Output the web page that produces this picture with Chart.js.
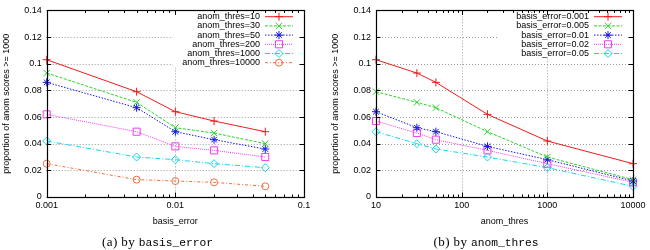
<!DOCTYPE html>
<html>
<head>
<meta charset="utf-8">
<script src="https://cdn.jsdelivr.net/npm/chart.js@4.4.0/dist/chart.umd.min.js"></script>
<style>
  body { margin: 0; background: #fff; width: 650px; height: 250px; position: relative; overflow: hidden; }
  canvas { position: absolute; top: 0; }
  .cap { position: absolute; top: 233px; white-space: nowrap; transform: translateX(-50%); line-height: 15px; color: #000; }
  .cap .s { font-family: 'Liberation Serif', serif; font-size: 13px; letter-spacing: 0.4px; }
  .cap .m { font-family: 'Liberation Mono', monospace; font-size: 11.25px; }
</style>
</head>
<body>
<canvas id="left" width="325" height="250" style="left:0"></canvas>
<canvas id="right" width="325" height="250" style="left:325px"></canvas>
<div class="cap" style="left:157.5px"><span class="s">(a) by </span><span class="m">basis_error</span></div>
<div class="cap" style="left:486px"><span class="s">(b) by </span><span class="m">anom_thres</span></div>
<script>
  const basisErrors = [0.001, 0.005, 0.01, 0.02, 0.05];
  const anomThres = [10, 30, 50, 200, 1000, 10000];

  // proportion of anom scores >= 1000, one array per anom_thres, over basisErrors
  const thres10 = [0.103, 0.079, 0.064, 0.057, 0.049];
  const thres30 = [0.093, 0.071, 0.052, 0.048, 0.040];
  const thres50 = [0.086, 0.067, 0.049, 0.043, 0.036];
  const thres200 = [0.062, 0.049, 0.038, 0.035, 0.030];
  const thres1000 = [0.042, 0.030, 0.028, 0.025, 0.022];
  const thres10000 = [0.025, 0.013, 0.012, 0.011, 0.008];
  const byThres = [thres10, thres30, thres50, thres200, thres1000, thres10000];

  const yTicks = [0, 0.02, 0.04, 0.06, 0.08, 0.1, 0.12, 0.14];
  const yTickLabels = ['0', '0.02', '0.04', '0.06', '0.08', '0.1', '0.12', '0.14'];
  const basisTicks = [0.001, 0.01, 0.1];
  const basisTickLabels = ['0.001', '0.01', '0.1'];
  const thresTicks = [10, 100, 1000, 10000];
  const thresTickLabels = ['10', '100', '1000', '10000'];

  // gnuplot-ish line types
  const looks = [
    { color: '#ee1c1c', dash: [], point: 'cross', r: 4 },
    { color: '#2ad42a', dash: [3, 1.5], point: 'crossRot', r: 4.5 },
    { color: '#1414ee', dash: [1.5, 1.5], point: 'star', r: 4 },
    { color: '#f03cf0', dash: [1, 1], point: 'rect', r: 5 },
    { color: '#10d8e8', dash: [5, 2, 1, 2], point: 'rectRot', r: 4 },
    { color: '#e8703c', dash: [3, 2, 1, 2], point: 'circle', r: 3.5 }
  ];

  const FONT = { family: "'Liberation Sans', Arial, sans-serif", size: 9 };

  const frame = {
    id: 'frame',
    beforeDatasetsDraw(chart) {
      const { ctx, chartArea: a, scales: { x, y } } = chart;
      ctx.save();
      ctx.strokeStyle = '#9c9c9c';
      ctx.lineWidth = 1;
      ctx.setLineDash([1, 2]);
      ctx.beginPath();
      x.ticks.forEach(t => {
        if (t.value > x.min && t.value < x.max) {
          const px = Math.round(x.getPixelForValue(t.value)) + 0.5;
          ctx.moveTo(px, a.top); ctx.lineTo(px, a.bottom);
        }
      });
      y.ticks.forEach(t => {
        if (t.value > y.min && t.value < y.max) {
          const py = Math.round(y.getPixelForValue(t.value)) + 0.5;
          ctx.moveTo(a.left, py); ctx.lineTo(a.right, py);
        }
      });
      ctx.stroke();
      // legend box hides the grid
      const ds = chart.data.datasets;
      const maxLen = Math.max(...ds.map(d => d.label.length));
      const bx = a.right - (maxLen * 4 + 67);
      ctx.fillStyle = '#fff';
      ctx.fillRect(bx, a.top + 1, a.right - 1 - bx, ds.length * 9.2 + 1);
      ctx.restore();
    },
    afterDatasetsDraw(chart) {
      const { ctx, chartArea: a, scales: { x, y } } = chart;
      ctx.save();
      ctx.strokeStyle = '#000';
      ctx.lineWidth = 1;
      ctx.beginPath();
      const tick = (px, len) => {
        ctx.moveTo(px, a.bottom); ctx.lineTo(px, a.bottom - len);
        ctx.moveTo(px, a.top); ctx.lineTo(px, a.top + len);
      };
      x.ticks.forEach(t => tick(Math.round(x.getPixelForValue(t.value)) + 0.5, 4.5));
      for (let d = Math.pow(10, Math.floor(Math.log10(x.min))); d < x.max; d *= 10) {
        for (let k = 2; k < 10; k++) {
          const v = d * k;
          if (v > x.min && v < x.max) tick(Math.round(x.getPixelForValue(v)) + 0.5, 2.5);
        }
      }
      y.ticks.forEach(t => {
        const py = Math.round(y.getPixelForValue(t.value)) + 0.5;
        ctx.moveTo(a.left, py); ctx.lineTo(a.left + 4.5, py);
        ctx.moveTo(a.right, py); ctx.lineTo(a.right - 4.5, py);
      });
      ctx.stroke();
      ctx.lineWidth = 1.2;
      ctx.strokeRect(Math.round(a.left) + 0.5, Math.round(a.top) + 0.5,
        Math.round(a.right) - Math.round(a.left), Math.round(a.bottom) - Math.round(a.top));

      // legend entries
      ctx.font = `${FONT.size}px ${FONT.family}`;
      ctx.textAlign = 'right';
      ctx.textBaseline = 'middle';
      chart.data.datasets.forEach((d, i) => {
        const yy = a.top + 6.3 + i * 9.2;
        ctx.fillStyle = '#000';
        ctx.fillText(d.label, a.right - 44, yy);
        ctx.strokeStyle = d.borderColor;
        ctx.lineWidth = 1;
        ctx.setLineDash(d.borderDash);
        ctx.beginPath();
        ctx.moveTo(a.right - 39, yy); ctx.lineTo(a.right - 11, yy);
        ctx.stroke();
        ctx.setLineDash([]);
        ctx.fillStyle = 'rgba(0,0,0,0)';
        Chart.helpers.drawPoint(ctx, { pointStyle: d.pointStyle, radius: d.pointRadius, rotation: 0, borderWidth: 1 }, a.right - 25, yy);
      });
      ctx.restore();
    }
  };

  function makeChart(id, xTitle, xTicks, xLabels, series, padLeft, padRight) {
    return new Chart(document.getElementById(id), {
      type: 'line',
      data: {
        datasets: series.map((s, i) => ({
          label: s.label,
          data: s.data,
          borderColor: looks[i].color,
          borderWidth: 1,
          borderDash: looks[i].dash,
          pointStyle: looks[i].point,
          pointRadius: looks[i].r,
          pointBorderColor: looks[i].color,
          pointBackgroundColor: 'rgba(0,0,0,0)',
          pointBorderWidth: 1,
          tension: 0,
          clip: false
        }))
      },
      options: {
        responsive: false,
        animation: false,
        devicePixelRatio: 1,
        layout: { padding: { left: padLeft, right: padRight, top: 9, bottom: 23 } },
        plugins: { legend: { display: false }, tooltip: { enabled: false } },
        scales: {
          x: {
            type: 'logarithmic',
            min: xTicks[0],
            max: xTicks[xTicks.length - 1],
            afterBuildTicks: s => { s.ticks = xTicks.map(v => ({ value: v, major: true })); },
            afterFit: s => { s.height = 30; },
            grid: { display: false, drawTicks: false },
            border: { display: false },
            ticks: {
              autoSkip: false, maxRotation: 0, padding: 3.5, color: '#000', font: FONT,
              callback: (v, i) => xLabels[i]
            },
            title: { display: true, text: xTitle, color: '#000', font: FONT, padding: 0 }
          },
          y: {
            type: 'linear',
            min: 0,
            max: 0.14,
            afterBuildTicks: s => { s.ticks = yTicks.map(v => ({ value: v })); },
            afterFit: s => { s.width = 46.7; },
            grid: { display: false, drawTicks: false },
            border: { display: false },
            ticks: { padding: 5, color: '#000', font: FONT, callback: (v, i) => yTickLabels[i] },
            title: { display: true, text: 'proportion of anom scores >= 1000', color: '#000', font: FONT, padding: 1.3 }
          }
        }
      },
      plugins: [frame]
    });
  }

  const leftSeries = anomThres.map((t, i) => ({
    label: 'anom_thres=' + t,
    data: basisErrors.map((b, j) => ({ x: b, y: byThres[i][j] }))
  }));
  const rightSeries = basisErrors.map((b, j) => ({
    label: 'basis_error=' + b,
    data: anomThres.map((t, i) => ({ x: t, y: byThres[i][j] }))
  }));

  makeChart('left', 'basis_error', basisTicks, basisTickLabels, leftSeries, 0, 21);
  makeChart('right', 'anom_thres', thresTicks, thresTickLabels, rightSeries, 4.3, 17);
</script>
</body>
</html>
